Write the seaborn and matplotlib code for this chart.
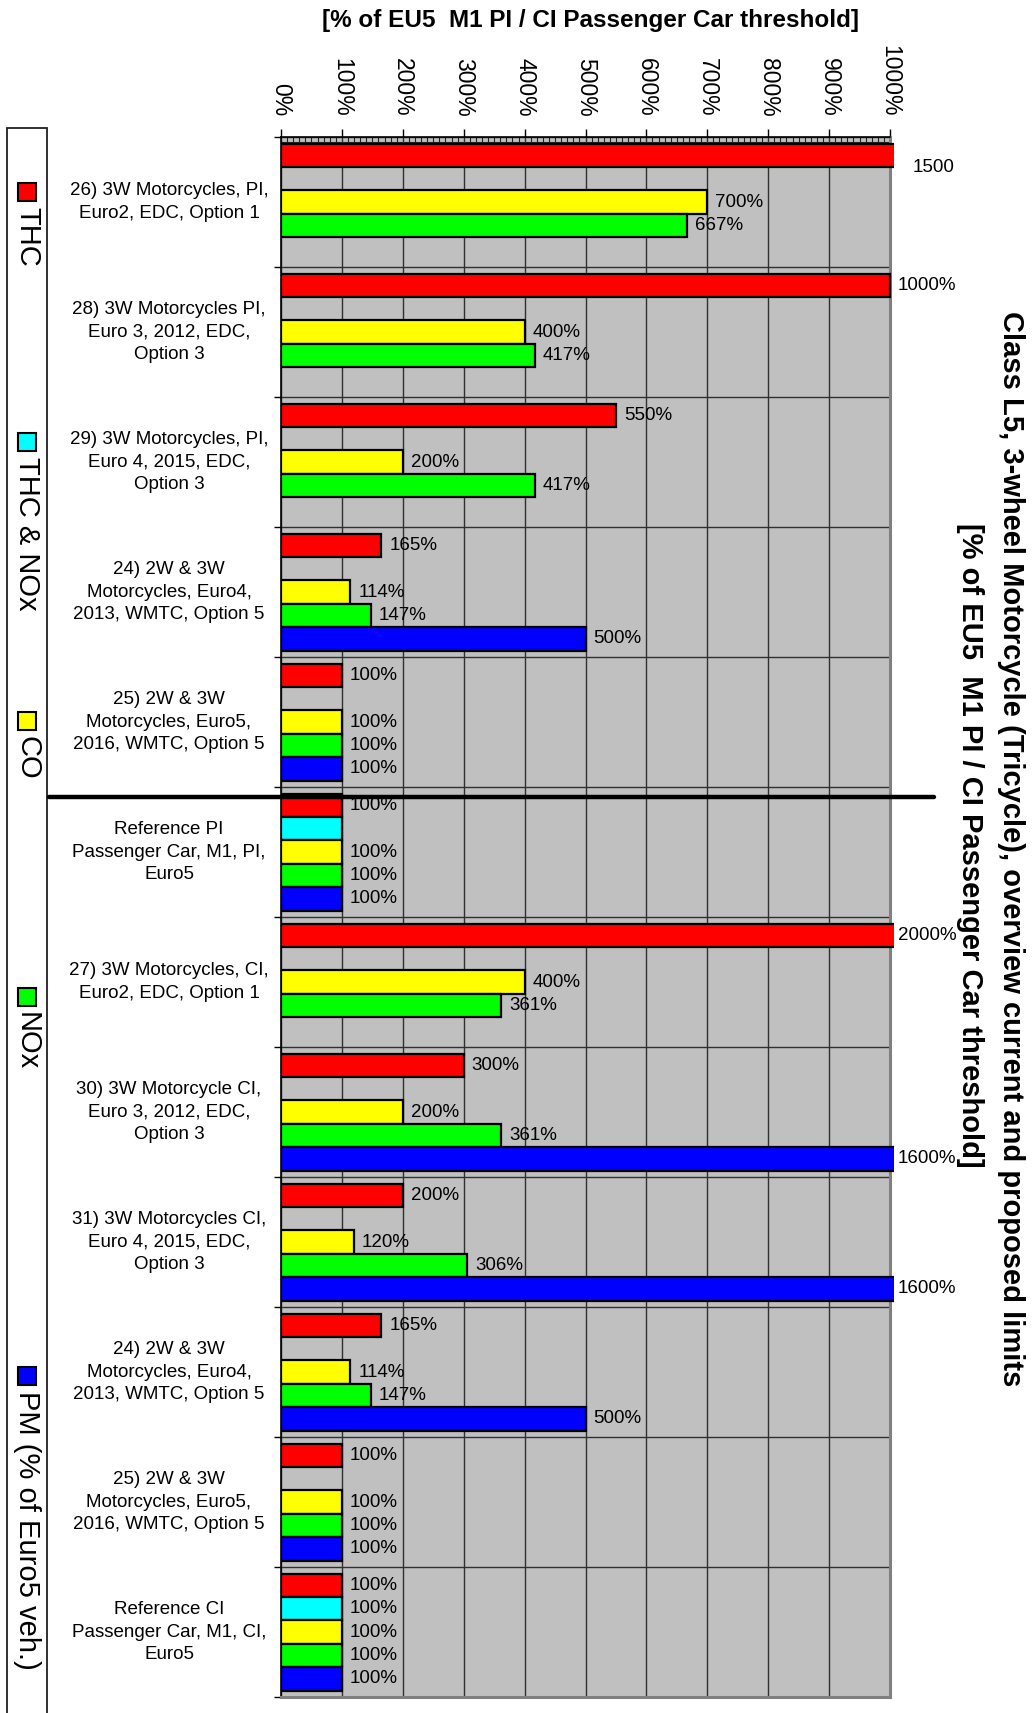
import numpy as np
import pandas as pd
import matplotlib
matplotlib.use("Agg")
import matplotlib.pyplot as plt
from matplotlib.patches import Rectangle
from matplotlib.lines import Line2D
from matplotlib.transforms import Bbox, TransformedBbox, blended_transform_factory
import seaborn as sns

# ---- data ---------------------------------------------------------------
groups = [
    "26) 3W Motorcycles, PI,\nEuro2, EDC, Option 1",
    "28) 3W Motorcycles PI,\nEuro 3, 2012, EDC,\nOption 3",
    "29) 3W Motorcycles, PI,\nEuro 4, 2015, EDC,\nOption 3",
    "24) 2W & 3W\nMotorcycles, Euro4,\n2013, WMTC, Option 5",
    "25) 2W & 3W\nMotorcycles, Euro5,\n2016, WMTC, Option 5",
    "Reference PI\nPassenger Car, M1, PI,\nEuro5",
    "27) 3W Motorcycles, CI,\nEuro2, EDC, Option 1",
    "30) 3W Motorcycle CI,\nEuro 3, 2012, EDC,\nOption 3",
    "31) 3W Motorcycles CI,\nEuro 4, 2015, EDC,\nOption 3",
    "24) 2W & 3W\nMotorcycles, Euro4,\n2013, WMTC, Option 5",
    "25) 2W & 3W\nMotorcycles, Euro5,\n2016, WMTC, Option 5",
    "Reference CI\nPassenger Car, M1, CI,\nEuro5",
]
pollutants = ["THC", "THC & NOx", "CO", "NOx", "PM (% of Euro5 veh.)"]
colors = ["#FF0000", "#00FFFF", "#FFFF00", "#00FF00", "#0000FF"]

nan = np.nan
thc = [1500, 1000, 550, 165, 100, 100, 2000, 300, 200, 165, 100, 100]
thc_nox = [nan, nan, nan, nan, nan, 100, nan, nan, nan, nan, nan, 100]
co = [700, 400, 200, 114, 100, 100, 400, 200, 120, 114, 100, 100]
nox = [667, 417, 417, 147, 100, 100, 361, 361, 306, 147, 100, 100]
pm = [nan, nan, nan, 500, 100, 100, nan, 1600, 1600, 500, 100, 100]
series = [thc, thc_nox, co, nox, pm]

x_ticks = list(range(0, 1001, 100))
x_ticklabels = [f"{t}%" for t in x_ticks]

# label text exceptions (group index, pollutant index)
label_override = {(0, 0): "1500"}
label_hidden = {(5, 1)}
label_shift_px = {(0, 0): (15, -12)}

title_top = "[% of EU5  M1 PI / CI Passenger Car threshold]"
title_right_1 = "Class L5, 3-wheel Motorcycle (Tricycle), overview current and proposed limits"
title_right_2 = "[% of EU5  M1 PI / CI Passenger Car threshold]"

rows = []
for k, pol in enumerate(pollutants):
    for gi, v in enumerate(series[k]):
        if not np.isnan(v):
            rows.append({"grp": gi, "pollutant": pol, "value": v})
df = pd.DataFrame(rows)

# ---- figure -------------------------------------------------------------
sns.set_theme(style="white")
plt.rcParams["font.family"] = ["Liberation Sans", "DejaVu Sans"]
plt.rcParams["text.color"] = "black"
plt.rcParams["xtick.color"] = "black"
plt.rcParams["ytick.color"] = "black"
plt.rcParams["xtick.labelcolor"] = "black"

W, H = 1033, 1713
fig = plt.figure(figsize=(W / 100, H / 100), dpi=100)
ax = fig.add_axes([281 / W, 1 - 1697 / H, (890 - 281) / W, (1697 - 137) / H])
ax.set_facecolor("#C0C0C0")

sns.barplot(
    data=df, x="value", y="grp", hue="pollutant", orient="h",
    order=list(range(len(groups))), hue_order=pollutants,
    palette=colors, saturation=1, width=0.9, errorbar=None,
    edgecolor="black", linewidth=1.6, legend=False, ax=ax,
)

# bars that exceed the scale run a few pixels past the frame
clip = TransformedBbox(Bbox([[0, 0], [1.007, 1]]), ax.transAxes)
for p in ax.patches:
    p.set_clip_path(None)
    p.set_clip_box(clip)
    p.set_zorder(3)

ax.set_xlim(0, 1000)
ax.set_ylim(len(groups) - 0.5, -0.5)
ax.set_xlabel("")
ax.set_ylabel("")

# x axis on top, rotated labels
ax.xaxis.set_ticks_position("top")
ax.set_xticks(x_ticks)
ax.set_xticklabels(x_ticklabels, rotation=270, fontsize=16.5, color="black")
ax.set_xticks(np.arange(0, 1001, 10), minor=True)
ax.tick_params(axis="x", which="major", top=True, bottom=False, direction="out",
               length=6, width=1, color="black", pad=8.6)
ax.tick_params(axis="x", which="minor", top=True, bottom=False, direction="in",
               length=3.6, width=0.8, color="#202020")

# group boundaries on y
ax.set_yticks(np.arange(-0.5, len(groups), 1.0))
ax.set_yticklabels([])
ax.tick_params(axis="y", left=True, direction="out", length=5, width=1, color="black")

ax.set_axisbelow(True)
ax.grid(axis="x", which="major", color="#303030", lw=1)
ax.grid(axis="y", which="major", color="#303030", lw=1)
ax.axhline(-0.5 + 5 / 130, color="#202020", lw=0.8, zorder=0.5)

for side in ["left", "top"]:
    ax.spines[side].set_color("black")
    ax.spines[side].set_linewidth(1.2)
for side in ["right", "bottom"]:
    ax.spines[side].set_color("#808080")
    ax.spines[side].set_linewidth(2.2)

# value labels
for k in range(len(pollutants)):
    for gi, v in enumerate(series[k]):
        if np.isnan(v) or (gi, k) in label_hidden:
            continue
        txt = label_override.get((gi, k), f"{v:g}%")
        dx, dy = label_shift_px.get((gi, k), (0, 0))
        ax.annotate(txt, xy=(min(v, 1000), gi + (k - 2) * 0.18),
                    xytext=(8 + dx, dy), textcoords="offset pixels",
                    ha="left", va="center", fontsize=13.5, color="black",
                    annotation_clip=False, zorder=4)

# group labels
fig_x_data_y = blended_transform_factory(fig.transFigure, ax.transData)
for gi, g in enumerate(groups):
    ax.text(169 / W, gi, g, transform=fig_x_data_y, ha="center", va="center",
            fontsize=13.5, linespacing=1.45, multialignment="center",
            color="black")

# PI / CI divider
fig.lines.append(Line2D([49 / W, 934 / W], [4.577, 4.577], transform=fig_x_data_y,
                        color="black", lw=3.2, zorder=5))

# titles
fig.text(590 / W, 1 - 20 / H, title_top, ha="center", va="center",
         fontsize=17.5, fontweight="bold", color="black")
fig.text(1011 / W, 1 - 849 / H, title_right_1, rotation=270, ha="center",
         va="center", fontsize=21, fontweight="bold", color="black")
fig.text(970 / W, 1 - 845 / H, title_right_2, rotation=270, ha="center",
         va="center", fontsize=21, fontweight="bold", color="black")

# legend column
fig.patches.append(Rectangle((7 / W, 1 - 1730 / H), 40 / W, (1730 - 128) / H,
                             transform=fig.transFigure, fill=False,
                             ec="#202020", lw=1.3))
legend_top_px = [183, 433, 712, 988, 1367]
for pol, col, top in zip(pollutants, colors, legend_top_px):
    fig.patches.append(Rectangle((18 / W, 1 - (top + 18) / H), 18 / W, 18 / H,
                                 transform=fig.transFigure, fc=col,
                                 ec="black", lw=1.5))
    fig.text(27 / W, 1 - (top + 24) / H, pol, rotation=270, ha="center",
             va="top", fontsize=21, color="black")

fig.savefig("out.png", dpi=100)
